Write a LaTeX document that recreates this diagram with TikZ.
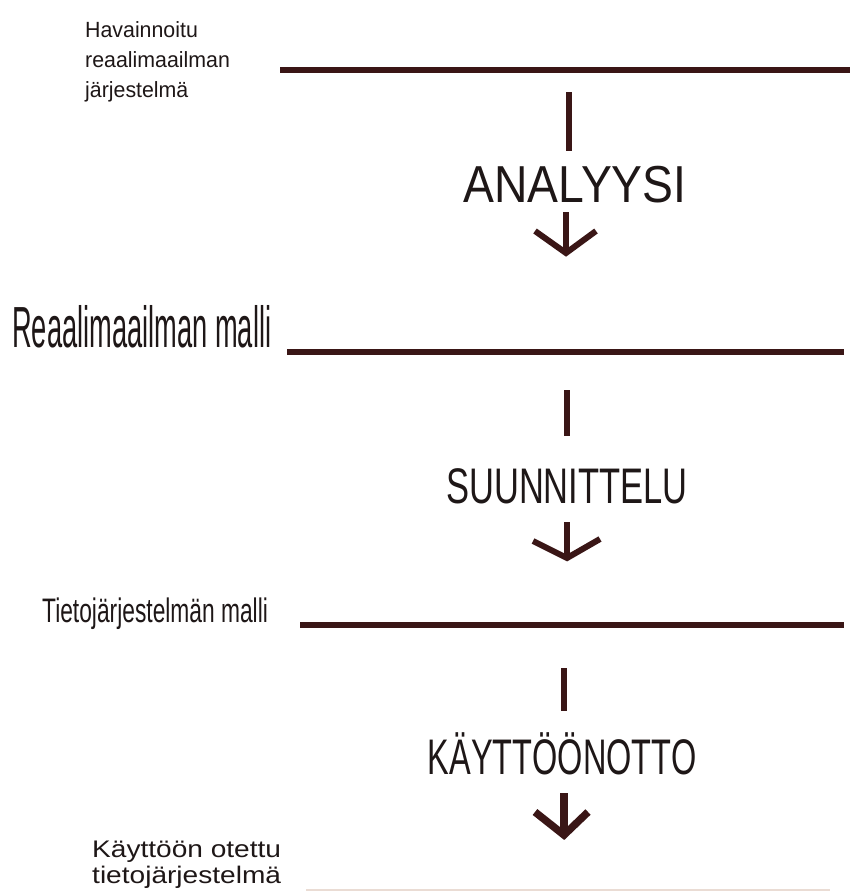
\documentclass[tikz,border=0pt]{standalone}
\usepackage{fontspec}
\setmainfont{Liberation Sans}
\newfontfamily\fHav[FakeStretch=0.97]{Liberation Sans}
\newfontfamily\fAna[FakeStretch=0.89]{Liberation Sans}
\newfontfamily\fSuu[FakeStretch=0.69]{Liberation Sans}
\newfontfamily\fKay[FakeStretch=0.65]{Liberation Sans}
\newfontfamily\fRea[FakeStretch=0.47]{Liberation Sans}
\newfontfamily\fTie[FakeStretch=0.67]{Liberation Sans}
\newfontfamily\fKot[FakeStretch=1.17]{Liberation Sans}
\definecolor{bar}{HTML}{3A1616}
\definecolor{txt}{HTML}{1E1717}
\definecolor{pale}{HTML}{EADCD4}
\begin{document}
\begin{tikzpicture}[x=1pt,y=-1pt,
  level/.style={draw=bar,line width=6pt},
  stub/.style={draw=bar,line width=5.5pt},
  arr/.style={draw=bar,line width=6pt,line join=miter},
  lbl/.style={inner sep=0pt,text=txt,align=left}]
\useasboundingbox[fill=white] (0,0) rectangle (850,894);
% level lines
\coordinate (l1a) at (280,70);  \coordinate (l1b) at (850,70);
\coordinate (l2a) at (287,352); \coordinate (l2b) at (844,352);
\coordinate (l3a) at (300,625); \coordinate (l3b) at (844,625);
\coordinate (l4a) at (306,890); \coordinate (l4b) at (830,890);
\draw[level] (l1a) -- (l1b);
\draw[level] (l2a) -- (l2b);
\draw[level] (l3a) -- (l3b);
\draw[draw=pale,line width=2pt] (l4a) -- (l4b);
% left labels (base anchor = baseline of last line)
\node[lbl,anchor=base west,font={\fHav\fontsize{22}{30}\selectfont}] (hav) at (85,97) {Havainnoitu\\reaalimaailman\\järjestelmä};
\node[lbl,anchor=base west,font={\fRea\fontsize{58}{60}\selectfont}] (rea) at (12,347) {Reaalimaailman malli};
\node[lbl,anchor=base west,font={\fTie\fontsize{34}{36}\selectfont}] (tie) at (42,622) {Tietojärjestelmän malli};
\node[lbl,anchor=base west,font={\fKot\fontsize{24}{26}\selectfont}] (kot) at (92,883) {Käyttöön otettu\\tietojärjestelmä};
% phase labels
\node[lbl,anchor=base,font={\fAna\fontsize{52}{54}\selectfont}] (ana) at (575,202) {ANALYYSI};
\node[lbl,anchor=base,font={\fSuu\fontsize{50}{52}\selectfont}] (suu) at (567,503) {SUUNNITTELU};
\node[lbl,anchor=base,font={\fKay\fontsize{50}{52}\selectfont}] (kay) at (562,774) {KÄYTTÖÖNOTTO};
% stubs
\coordinate (s1a) at (569,92);  \coordinate (s1b) at (569,151);
\coordinate (s2a) at (567,390); \coordinate (s2b) at (567,436);
\coordinate (s3a) at (564,668); \coordinate (s3b) at (564,711);
\draw[stub] (s1a) -- (s1b);
\draw[stub] (s2a) -- (s2b);
\draw[stub] (s3a) -- (s3b);
% arrows
\coordinate (a1t) at (566,212); \coordinate (a1p) at (566,253);
\coordinate (a1l) at (535,231); \coordinate (a1r) at (596,231);
\coordinate (a2t) at (567,522); \coordinate (a2p) at (567,558);
\coordinate (a2l) at (533,541); \coordinate (a2r) at (600,539);
\coordinate (a3t) at (564,793); \coordinate (a3p) at (564,835);
\coordinate (a3l) at (535,812); \coordinate (a3r) at (588,812);
\draw[arr] (a1t) -- (a1p);
\draw[arr] (a1l) -- (a1p) -- (a1r);
\draw[arr] (a2t) -- (a2p);
\draw[arr] (a2l) -- (a2p) -- (a2r);
\draw[arr,line width=7.5pt] (a3t) -- (a3p);
\draw[arr,line width=7.5pt] (a3l) -- (a3p) -- (a3r);
\end{tikzpicture}
\end{document}
